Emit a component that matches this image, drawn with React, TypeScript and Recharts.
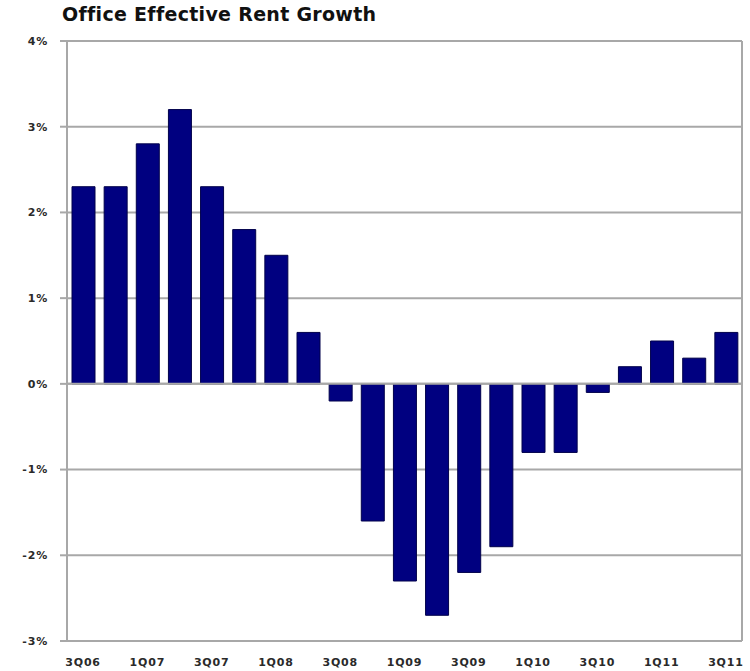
import { Bar, BarChart, CartesianGrid, ReferenceLine, XAxis, YAxis } from 'recharts'

// Quarters shown on the category axis
const QUARTERS = [
  '3Q06', '4Q06', '1Q07', '2Q07', '3Q07', '4Q07', '1Q08', '2Q08', '3Q08', '4Q08',
  '1Q09', '2Q09', '3Q09', '4Q09', '1Q10', '2Q10', '3Q10', '4Q10', '1Q11', '2Q11', '3Q11',
]

// Effective rent growth, percent
const GROWTH = [
  2.3, 2.3, 2.8, 3.2, 2.3, 1.8, 1.5, 0.6, -0.2, -1.6,
  -2.3, -2.7, -2.2, -1.9, -0.8, -0.8, -0.1, 0.2, 0.5, 0.3, 0.6,
]

const Y_TICKS = [-3, -2, -1, 0, 1, 2, 3, 4]

const data = QUARTERS.map((q, i) => ({ quarter: q, growth: GROWTH[i] }))

const GRID = '#a8a8a8'
const TICK_STYLE = {
  fill: '#2a2a2a',
  fontSize: 11,
  fontFamily: 'DejaVu Sans',
  fontWeight: 700,
  letterSpacing: 0.8,
}

export default function App() {
  return (
    <div style={{ position: 'absolute', left: 0, top: 0, width: 750, height: 671, background: '#fff' }}>
      <div
        style={{
          position: 'absolute',
          left: 62,
          top: 3,
          fontFamily: 'DejaVu Sans, sans-serif',
          fontWeight: 700,
          fontSize: 19,
          letterSpacing: 0.3,
          color: '#111',
          whiteSpace: 'nowrap',
        }}
      >
        Office Effective Rent Growth
      </div>
      <BarChart
        width={750}
        height={671}
        data={data}
        margin={{ top: 41, right: 8, left: 0, bottom: 0 }}
        barSize={23}
      >
        <CartesianGrid
          stroke={GRID}
          strokeWidth={2}
          vertical={true}
          verticalCoordinatesGenerator={({ offset }: any) => [offset.left + offset.width]}
        />
        <XAxis
          dataKey="quarter"
          interval={1}
          tickLine={false}
          axisLine={{ stroke: GRID, strokeWidth: 2 }}
          tick={TICK_STYLE}
          tickMargin={11}
          height={30}
        />
        <YAxis
          domain={[-3, 4]}
          ticks={Y_TICKS}
          tickFormatter={(v: number) => `${v}%`}
          tick={TICK_STYLE}
          tickSize={7}
          tickMargin={12}
          tickLine={{ stroke: GRID, strokeWidth: 2 }}
          axisLine={{ stroke: GRID, strokeWidth: 2 }}
          width={67}
          interval={0}
        />
        <ReferenceLine y={0} stroke={GRID} strokeWidth={2} />
        <Bar dataKey="growth" fill="#000080" stroke="#00004a" strokeWidth={1} isAnimationActive={false} />
      </BarChart>
    </div>
  )
}
